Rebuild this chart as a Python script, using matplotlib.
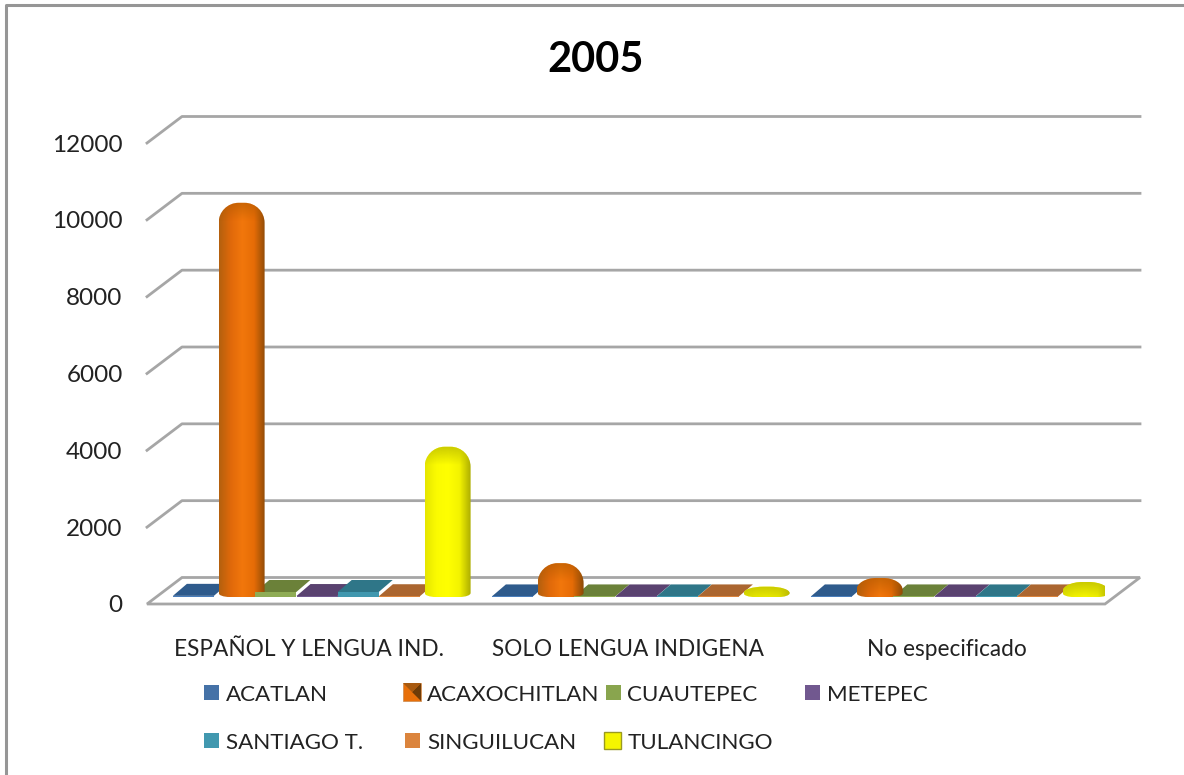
import numpy as np
import matplotlib
matplotlib.use("Agg")
import matplotlib.pyplot as plt
from matplotlib.colors import LinearSegmentedColormap, to_rgb
from matplotlib.lines import Line2D
from matplotlib.patches import Polygon, Rectangle
from matplotlib.path import Path
from matplotlib.transforms import Affine2D

plt.rcParams["font.family"] = ["Lato", "DejaVu Sans"]

CATEGORIES = ["ESPAÑOL Y LENGUA IND.", "SOLO LENGUA INDIGENA", "No especificado"]
ACATLAN = [30, 15, 15]
ACAXOCHITLAN = [10000, 620, 235]
CUAUTEPEC = [130, 15, 15]
METEPEC = [25, 15, 15]
SANTIAGO = [130, 15, 15]
SINGUILUCAN = [20, 15, 15]
TULANCINGO = [3650, 8, 130]
YTICKS = [0, 2000, 4000, 6000, 8000, 10000, 12000]

W, H = 1184, 775
PX_X = 1 / 319   # one pixel in category units
PX_Y = 12000 / 461   # one pixel in value units
DEPTH_X, DEPTH_Y = 35 * PX_X, 26.5 * PX_Y
STEP = 41.2 * PX_X
BAR_W = 41 * PX_X
BAR_SHIFT = 8 * PX_X
BASE = 7 * PX_Y
GRID = "#a6a6a6"

fig = plt.figure(figsize=(W / 100, H / 100), dpi=100, facecolor="white")
pix = Affine2D().scale(1, -1).translate(0, H)
# the frame only shows on the left and top, the rest is cropped away
fig.add_artist(Line2D([6, 6, W], [H, 5, 5], transform=pix, color="#969696", linewidth=2.2))

ax = fig.add_axes([147 / W, (H - 604) / H, (1105 - 147) / W, (604 - 143) / H])
ax.patch.set_visible(False)
XLIM = (-162 / 319, 796 / 319)
YLIM = (0, 12000)

# back wall lines and left wall slants
for v in YTICKS[1:]:
    ax.plot([XLIM[0], XLIM[0] + DEPTH_X, XLIM[1] + DEPTH_X],
            [v, v + DEPTH_Y, v + DEPTH_Y],
            color=GRID, linewidth=2, clip_on=False, zorder=1)
# floor
ax.add_patch(Polygon([(XLIM[0], 0), (XLIM[0] + DEPTH_X, DEPTH_Y),
                      (XLIM[1] + DEPTH_X, DEPTH_Y), (XLIM[1], 0)],
                     closed=True, facecolor="white", edgecolor=GRID,
                     linewidth=2, clip_on=False, zorder=1))


def flat_bars(values, idx, front, top):
    xs = np.arange(3) + (idx - 3) * STEP + BAR_SHIFT
    dx, dy = 14 * PX_X, 12 * PX_Y
    for x, v in zip(xs, values):
        y = BASE + v
        ax.add_patch(Polygon([(x - BAR_W / 2, y), (x - BAR_W / 2 + dx, y + dy),
                              (x + BAR_W / 2 + dx, y + dy), (x + BAR_W / 2, y)],
                             closed=True, facecolor=top, edgecolor="none",
                             clip_on=False, zorder=3))
    ax.bar(xs, values, BAR_W, bottom=BASE, color=front, zorder=5, clip_on=False)


def dome_path(xc, v):
    hw = 23 * PX_X
    y0 = BASE
    y1 = BASE + v + 10 * PX_Y
    h = y1 - y0
    rx = 20 * PX_X
    ry = min(20 * PX_Y, 0.62 * h)
    bx = 11 * PX_X
    by = min(4 * PX_Y, 0.38 * h)
    k = 0.55
    verts = [(xc - hw + bx, y0),
             (xc - hw + bx * (1 - k), y0), (xc - hw, y0 + by * (1 - k)), (xc - hw, y0 + by),
             (xc - hw, y1 - ry),
             (xc - hw, y1 - ry * (1 - k)), (xc - hw + rx * (1 - k), y1), (xc - hw + rx, y1),
             (xc + hw - rx, y1),
             (xc + hw - rx * (1 - k), y1), (xc + hw, y1 - ry * (1 - k)), (xc + hw, y1 - ry),
             (xc + hw, y0 + by),
             (xc + hw, y0 + by * (1 - k)), (xc + hw - bx * (1 - k), y0), (xc + hw - bx, y0),
             (xc - hw + bx, y0)]
    codes = [Path.MOVETO, Path.CURVE4, Path.CURVE4, Path.CURVE4, Path.LINETO,
             Path.CURVE4, Path.CURVE4, Path.CURVE4, Path.LINETO,
             Path.CURVE4, Path.CURVE4, Path.CURVE4, Path.LINETO,
             Path.CURVE4, Path.CURVE4, Path.CURVE4, Path.CLOSEPOLY]
    return Path(verts, codes), y0, y1


def cylinders(values, idx, stops, cap, cap_alpha):
    cmap = LinearSegmentedColormap.from_list("c", stops)
    grad = np.linspace(0, 1, 128).reshape(1, -1)
    cap_rgb = to_rgb(cap)
    for i, v in enumerate(values):
        xc = i + (idx - 3) * STEP + BAR_SHIFT + 7 * PX_X
        path, y0, y1 = dome_path(xc, v)
        ext = (xc - 23 * PX_X, xc + 23 * PX_X)
        im = ax.imshow(grad, cmap=cmap, extent=(ext[0], ext[1], y0, y1), aspect="auto",
                       origin="lower", interpolation="bilinear", zorder=4)
        im.set_clip_path(path, transform=ax.transData)
        # darker shoulder on the rounded end
        shade = np.ones((64, 1, 4))
        shade[:, :, :3] = cap_rgb
        shade[:, 0, 3] = np.linspace(cap_alpha, 0, 64)
        im2 = ax.imshow(shade, extent=(ext[0], ext[1], y1 - 18 * PX_Y, y1), aspect="auto",
                        origin="upper", interpolation="bilinear", zorder=4.1)
        im2.set_clip_path(path, transform=ax.transData)


flat_bars(ACATLAN, 0, "#4a7ebb", "#2f5b8c")
flat_bars(CUAUTEPEC, 2, "#8fac55", "#6b8139")
flat_bars(METEPEC, 3, "#71588f", "#5a4270")
flat_bars(SANTIAGO, 4, "#4198af", "#2f7688")
flat_bars(SINGUILUCAN, 5, "#db843d", "#ab6630")
cylinders(ACAXOCHITLAN, 1,
          ["#b4600e", "#e0690a", "#f2770c", "#e66c06", "#8a4a08"], "#b05a00", 0.6)
cylinders(TULANCINGO, 6,
          ["#e6e600", "#fbfb00", "#ffff00", "#f4f400", "#adad00"], "#c4c400", 0.9)

ax.set_xlim(XLIM)
ax.set_ylim(YLIM)
for s in ax.spines.values():
    s.set_visible(False)
ax.set_yticks(YTICKS)
ax.set_xticks(range(3))
ax.set_xticklabels(CATEGORIES)
ax.tick_params(axis="y", length=0, pad=17.5, labelsize=17.5, labelcolor="#222222")
ax.tick_params(axis="x", length=0, pad=25, labelsize=16.3, labelcolor="#222222")

fig.text(596, 60, "2005", transform=pix, ha="center", va="center",
         fontsize=30, fontweight="bold", color="black")

# legend, laid out by hand like the original
LEGEND_NAMES = ["ACATLAN", "ACAXOCHITLAN", "CUAUTEPEC", "METEPEC",
                "SANTIAGO T.", "SINGUILUCAN", "TULANCINGO"]
LEGEND_COLORS = ["#4572a7", "#e8700a", "#89a54e", "#71588f",
                 "#4198af", "#db843d", "#f5f500"]
LEGEND_MARK_X = [204, 403, 606, 805, 204, 405, 604]
LEGEND_TEXT_X = [226, 427, 627, 827, 226, 427, 628]
LEGEND_ROW_Y = [692, 692, 692, 692, 740, 740, 740]
for k, name in enumerate(LEGEND_NAMES):
    mx, my = LEGEND_MARK_X[k], LEGEND_ROW_Y[k]
    if k == 1:
        size = 18
        fig.add_artist(Rectangle((mx, my - size / 2), size, size, transform=pix,
                                 facecolor=LEGEND_COLORS[k], edgecolor="#c98a50", linewidth=0.5))
        fig.add_artist(Polygon([(mx + size, my - size / 2), (mx + size, my + size / 2),
                                (mx + size / 2, my)], closed=True, transform=pix,
                               facecolor="#6e3c08", edgecolor="none"))
        fig.add_artist(Polygon([(mx, my - size / 2), (mx + size, my - size / 2),
                                (mx + size / 2, my)], closed=True, transform=pix,
                               facecolor="#a85a10", edgecolor="none"))
    elif k == 6:
        size = 17
        fig.add_artist(Rectangle((mx, my - size / 2), size, size, transform=pix,
                                 facecolor=LEGEND_COLORS[k], edgecolor="#9a9a20", linewidth=1))
    else:
        fig.add_artist(Rectangle((mx, my - 7.5), 15, 15, transform=pix,
                                 facecolor=LEGEND_COLORS[k], edgecolor="none"))
    fig.text(LEGEND_TEXT_X[k], my + 3, name, transform=pix, ha="left", va="center",
             fontsize=16.1, color="#222222")

fig.savefig("out.png", dpi=100)
